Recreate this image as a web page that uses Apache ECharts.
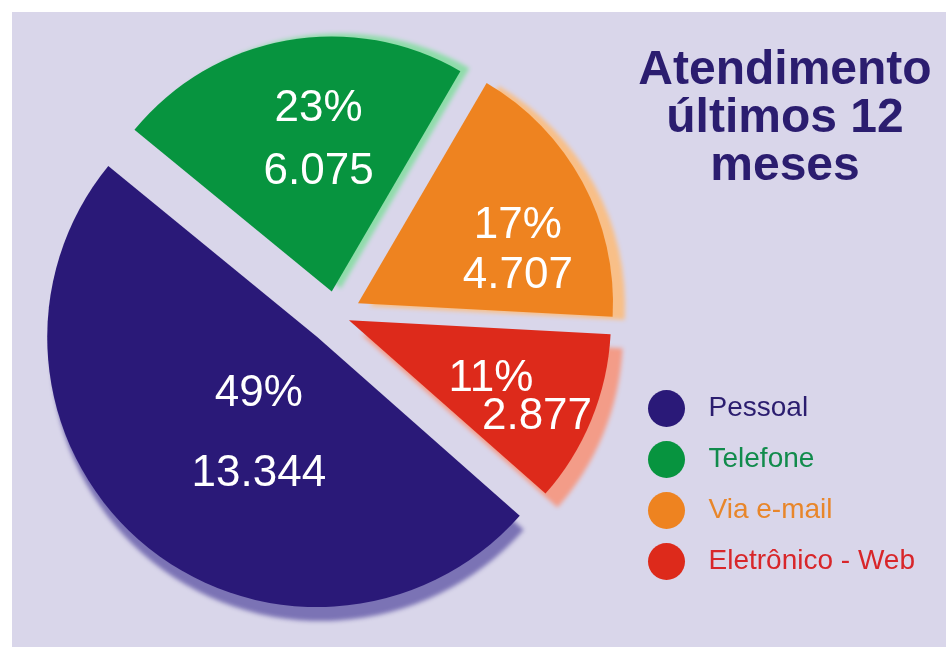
<!DOCTYPE html>
<html>
<head>
<meta charset="utf-8">
<script src="https://cdn.jsdelivr.net/npm/echarts@6/dist/echarts.min.js"></script>
<style>
html, body { margin: 0; padding: 0; background: #ffffff; }
#chart { width: 946px; height: 647px; }
</style>
</head>
<body>
<div id="chart"></div>
<script>
// ---- data ----
const categories = ['Pessoal', 'Telefone', 'Via e-mail', 'Eletrônico - Web'];
const values = [13344, 6075, 4707, 2877];
const titleLines = ['Atendimento', 'últimos 12', 'meses'];

// ---- styling (kept apart from the data) ----
const FONT = '"Liberation Sans", Arial, Helvetica, sans-serif';
const PIE_CENTER = [336, 315];
const START_ANGLE = 318.6;
const sliceRadius = [270, 255, 255, 262];
const sliceOffset = [29, 24, 25, 14];
const sliceColors = ['#2a1978', '#07943f', '#ee8320', '#dd2a1b'];
const rimColors = ['rgba(118,110,178,0.95)', '#8fdcaa', '#f8bf88', '#f39c88'];
const rimOffsets = [[4, 14], [9, -3], [12, 3], [12, 14]];
const legendTextColors = ['#2b1d6f', '#118b4c', '#e8862a', '#d8262a'];
const labelLineHeights = [80, 63, 50, 38];
const labelNudge = [[31, -8], [10, -23], [45, 10], [41, 27]];
const labelSplit = [0, 0, 0, 46];

function fmtThousands(v) {
  return String(v).replace(/\B(?=(\d{3})+(?!\d))/g, '.');
}

function sliceSeries(k) {
  return {
    type: 'pie',
    center: PIE_CENTER,
    radius: sliceRadius[k],
    startAngle: START_ANGLE,
    clockwise: true,
    percentPrecision: 0,
    selectedMode: 'multiple',
    selectedOffset: sliceOffset[k],
    avoidLabelOverlap: false,
    silent: true,
    emphasis: { disabled: true },
    labelLine: { show: false },
    label: {
      show: true,
      position: 'inside',
      formatter: p => '{p|' + p.percent + '%}\n{v|' + fmtThousands(p.value) + '}',
      rich: {
        p: { fontSize: 44, color: '#fff', fontFamily: FONT, lineHeight: labelLineHeights[k],
             padding: [0, labelSplit[k], 0, 0] },
        v: { fontSize: 44, color: '#fff', fontFamily: FONT, lineHeight: labelLineHeights[k],
             padding: [0, 0, 0, labelSplit[k]] }
      }
    },
    labelLayout: () => ({ dx: labelNudge[k][0], dy: labelNudge[k][1] }),
    data: categories.map((name, i) => i === k ? {
      name: name,
      value: values[i],
      selected: true,
      itemStyle: {
        color: sliceColors[i],
        shadowColor: rimColors[i],
        shadowBlur: 4,
        shadowOffsetX: rimOffsets[i][0],
        shadowOffsetY: rimOffsets[i][1]
      }
    } : {
      name: '',
      value: values[i],
      itemStyle: { color: 'rgba(0,0,0,0)' },
      label: { show: false }
    })
  };
}

const chart = echarts.init(document.getElementById('chart'), null, { renderer: 'canvas' });
chart.setOption({
  animation: false,
  backgroundColor: '#ffffff',
  graphic: [{
    type: 'rect', z: -10, silent: true,
    shape: { x: 12, y: 12, width: 946, height: 647 },
    style: { fill: '#d9d6ea' }
  }],
  title: {
    text: titleLines.join('\n'),
    left: 780, top: 42,
    textAlign: 'center',
    textStyle: { fontFamily: FONT, fontSize: 48, fontWeight: 'bold', color: '#2b1d6f', lineHeight: 48 }
  },
  legend: {
    orient: 'vertical',
    left: 648, top: 390,
    padding: 0,
    icon: 'circle',
    itemWidth: 74, itemHeight: 37, itemGap: 14,
    selectedMode: false,
    textStyle: { fontFamily: FONT, fontSize: 28 },
    data: categories.map((c, i) => ({
      name: c,
      itemStyle: { color: sliceColors[i], shadowBlur: 0, shadowColor: 'rgba(0,0,0,0)' },
      textStyle: { color: legendTextColors[i] }
    }))
  },
  series: categories.map((c, k) => sliceSeries(k))
});
</script>
</body>
</html>
